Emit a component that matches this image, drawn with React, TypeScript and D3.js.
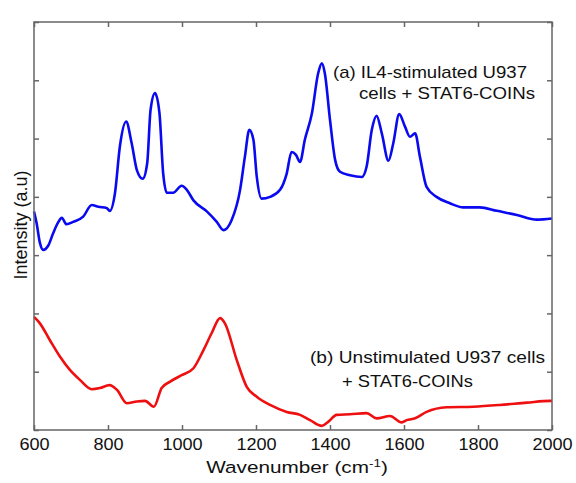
import React, { useEffect, useRef } from 'react';
import * as d3 from 'd3';

// spectrum (a): IL4-stimulated U937 cells + STAT6-COINs
const waveA = [600, 607, 616, 625, 639, 652, 666, 675, 688, 706, 733, 756, 774, 796, 805, 819, 832, 849, 864, 878, 894, 906, 915, 927, 939, 949, 959, 976, 999, 1013, 1031, 1067, 1094, 1112, 1134, 1157, 1170, 1182, 1193, 1202, 1215, 1238, 1265, 1283, 1296, 1308, 1319, 1332, 1351, 1368, 1378, 1386, 1400, 1414, 1427, 1454, 1486, 1499, 1513, 1526, 1540, 1558, 1571, 1587, 1603, 1616, 1630, 1643, 1661, 1688, 1724, 1760, 1805, 1851, 1905, 1959, 2000];
const intensityA = [3.75, 3.55, 3.21, 3.09, 3.17, 3.38, 3.57, 3.64, 3.53, 3.57, 3.66, 3.86, 3.83, 3.81, 3.76, 4.07, 4.86, 5.29, 4.92, 4.46, 4.31, 4.58, 5.49, 5.78, 5.44, 4.41, 4.07, 4.07, 4.19, 4.12, 3.94, 3.75, 3.57, 3.43, 3.6, 4.12, 4.69, 5.15, 4.98, 4.35, 3.97, 4.0, 4.12, 4.4, 4.77, 4.72, 4.6, 4.98, 5.43, 6.12, 6.29, 6.12, 5.32, 4.63, 4.43, 4.37, 4.34, 4.52, 5.15, 5.39, 5.09, 4.62, 4.92, 5.42, 5.2, 5.03, 5.09, 4.69, 4.17, 4.0, 3.89, 3.82, 3.82, 3.76, 3.69, 3.61, 3.63];

// spectrum (b): unstimulated U937 cells + STAT6-COINs
const waveB = [600, 616, 643, 670, 697, 724, 756, 778, 804, 824, 851, 878, 900, 924, 945, 968, 999, 1031, 1058, 1080, 1103, 1116, 1148, 1175, 1202, 1238, 1283, 1319, 1346, 1378, 1395, 1418, 1454, 1499, 1526, 1562, 1594, 1607, 1630, 1661, 1715, 1787, 1859, 1932, 1995, 2000];
const intensityB = [1.94, 1.83, 1.54, 1.26, 1.03, 0.86, 0.7, 0.72, 0.77, 0.69, 0.46, 0.49, 0.5, 0.4, 0.72, 0.83, 0.94, 1.06, 1.37, 1.66, 1.92, 1.83, 1.2, 0.74, 0.57, 0.43, 0.31, 0.26, 0.17, 0.07, 0.14, 0.26, 0.27, 0.29, 0.2, 0.24, 0.13, 0.17, 0.2, 0.31, 0.39, 0.4, 0.43, 0.47, 0.5, 0.5];

const xTicks = [600, 800, 1000, 1200, 1400, 1600, 1800, 2000];
const yTicks = [0, 1, 2, 3, 4, 5, 6, 7];

const W = 576;
const H = 483;
const margin = { top: 22, right: 24, bottom: 53, left: 34 };

const App = () => {
  const svgRef = useRef<SVGSVGElement>(null);

  useEffect(() => {
    const svg = d3.select(svgRef.current);
    svg.selectAll('*').remove();

    const width = W - margin.left - margin.right;
    const height = H - margin.top - margin.bottom;
    const font = 'Liberation Sans, Arial, sans-serif';
    const axisColor = '#666';
    const textColor = '#111';

    const x = d3.scaleLinear().domain([600, 2000]).range([0, width]);
    const y = d3.scaleLinear().domain([0, 7]).range([height, 0]);

    const g = svg.append('g').attr('transform', `translate(${margin.left},${margin.top})`);

    const drawSpectrum = (waves: number[], vals: number[], color: string) => {
      const pts = waves.map((w, i) => [x(w), y(vals[i])] as [number, number]);
      g.append('path')
        .attr('d', d3.line().curve(d3.curveMonotoneX)(pts))
        .attr('fill', 'none')
        .attr('stroke', color)
        .attr('stroke-width', 2.6)
        .attr('stroke-linejoin', 'round');
    };

    drawSpectrum(waveA, intensityA, '#0a0af0');
    drawSpectrum(waveB, intensityB, '#ee1010');

    // frame
    g.append('rect')
      .attr('width', width)
      .attr('height', height)
      .attr('fill', 'none')
      .attr('stroke', axisColor)
      .attr('stroke-width', 1.5);

    // bottom axis with labels, ticks pointing inward
    const bottom = g
      .append('g')
      .attr('transform', `translate(0,${height})`)
      .call(
        d3
          .axisBottom(x)
          .tickValues(xTicks)
          .tickSizeInner(-5)
          .tickSizeOuter(0)
          .tickPadding(9)
          .tickFormat(d3.format('d'))
      );
    bottom.select('.domain').remove();
    bottom.selectAll('line').attr('stroke', axisColor).attr('stroke-width', 1.5);
    bottom
      .selectAll('text')
      .attr('font-family', font)
      .attr('font-size', 16)
      .attr('fill', textColor)
      .attr('transform', 'scale(1.13,1)');

    const top = g
      .append('g')
      .call(d3.axisTop(x).tickValues(xTicks).tickSizeInner(-5).tickSizeOuter(0).tickFormat(() => ''));
    top.select('.domain').remove();
    top.selectAll('line').attr('stroke', axisColor).attr('stroke-width', 1.5);

    const left = g
      .append('g')
      .call(d3.axisLeft(y).tickValues(yTicks).tickSizeInner(-5).tickSizeOuter(0).tickFormat(() => ''));
    left.select('.domain').remove();
    left.selectAll('line').attr('stroke', axisColor).attr('stroke-width', 1.5);

    const right = g
      .append('g')
      .attr('transform', `translate(${width},0)`)
      .call(d3.axisRight(y).tickValues(yTicks).tickSizeInner(-5).tickSizeOuter(0).tickFormat(() => ''));
    right.select('.domain').remove();
    right.selectAll('line').attr('stroke', axisColor).attr('stroke-width', 1.5);

    // axis titles
    const xTitle = svg
      .append('text')
      .attr('transform', 'translate(297,473) scale(1.22,1)')
      .attr('text-anchor', 'middle')
      .attr('font-family', font)
      .attr('font-size', 17)
      .attr('fill', textColor);
    xTitle.append('tspan').text('Wavenumber (cm');
    xTitle.append('tspan').attr('dy', -6).attr('font-size', 11).text('-1');
    xTitle.append('tspan').attr('dy', 6).text(')');

    svg
      .append('text')
      .attr('transform', 'translate(27,225) rotate(-90)')
      .attr('text-anchor', 'middle')
      .attr('font-family', font)
      .attr('font-size', 18)
      .attr('fill', textColor)
      .text('Intensity (a.u)');

    // annotations
    const note = (lines: string[], xs: number[], ys: number[], lens: number[]) => {
      lines.forEach((t, i) => {
        svg
          .append('text')
          .attr('x', xs[i])
          .attr('y', ys[i])
          .attr('font-family', font)
          .attr('font-size', 17)
          .attr('fill', textColor)
          .attr('textLength', lens[i])
          .attr('lengthAdjust', 'spacingAndGlyphs')
          .text(t);
      });
    };
    note(['(a) IL4-stimulated U937', 'cells + STAT6-COINs'], [333, 359], [78, 99], [194, 176]);
    note(['(b) Unstimulated U937 cells', '+ STAT6-COINs'], [310, 342], [363, 387], [235, 131]);
  }, []);

  return (
    <svg
      ref={svgRef}
      width={W}
      height={H}
      style={{ position: 'absolute', left: 0, top: 0, background: '#fff' }}
    ></svg>
  );
};

export default App;
